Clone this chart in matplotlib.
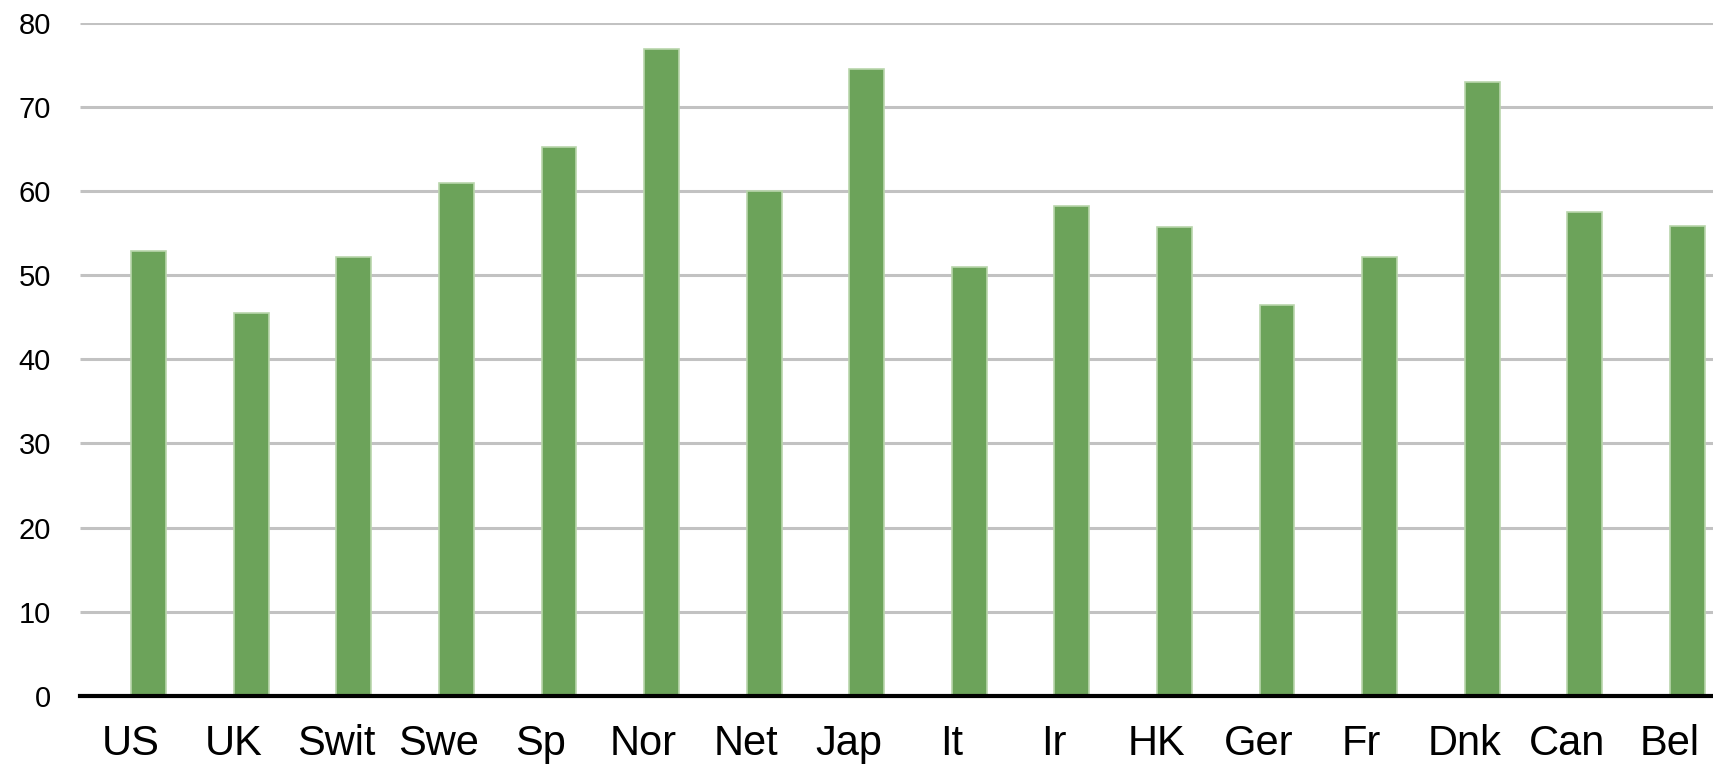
import numpy as np
import matplotlib.pyplot as plt
import matplotlib.transforms as mtransforms

countries = ['US', 'UK', 'Swit', 'Swe', 'Sp', 'Nor', 'Net', 'Jap',
             'It', 'Ir', 'HK', 'Ger', 'Fr', 'Dnk', 'Can', 'Bel']
values = [52.9, 45.5, 52.2, 60.9, 65.2, 76.9, 60.0, 74.5,
          51.0, 58.2, 55.7, 46.5, 52.2, 72.9, 57.5, 55.8]
yticks = [0, 10, 20, 30, 40, 50, 60, 70, 80]

plt.rcParams['font.family'] = ['Liberation Sans', 'DejaVu Sans']

fig = plt.figure(figsize=(17.13, 7.66), dpi=100)
ax = fig.add_axes([0.0467, 0.0914, 0.9533, 0.879])

x = np.arange(len(countries))
ax.bar(x, values, width=0.34, color='#6ca35a', edgecolor='#b9d6ac',
       linewidth=1.2, zorder=3)

ax.set_ylim(0, 80)
ax.set_xlim(-0.67, 15.25)
ax.set_yticks(yticks)
ax.set_yticklabels([str(t) for t in yticks], fontsize=21)
ax.set_xticks(x)
ax.set_xticklabels(countries, fontsize=30)
ax.tick_params(axis='y', length=0, pad=21)
ax.tick_params(axis='x', length=0, pad=20)

# labels sit a bit left of the bars in the original
shift = mtransforms.ScaledTranslation(-18 / 100, 0, fig.dpi_scale_trans)
for lab in ax.get_xticklabels():
    lab.set_transform(lab.get_transform() + shift)

# horizontal gridlines, kept inside the axes
ax.hlines(yticks[1:], -0.67, 15.25, colors='#c2c2c2', linewidth=2.2, zorder=1)
for side in ['top', 'right', 'left']:
    ax.spines[side].set_visible(False)
ax.spines['bottom'].set_color('black')
ax.spines['bottom'].set_linewidth(3)
ax.spines['bottom'].set_zorder(4)

fig.savefig('out.png', dpi=100)
